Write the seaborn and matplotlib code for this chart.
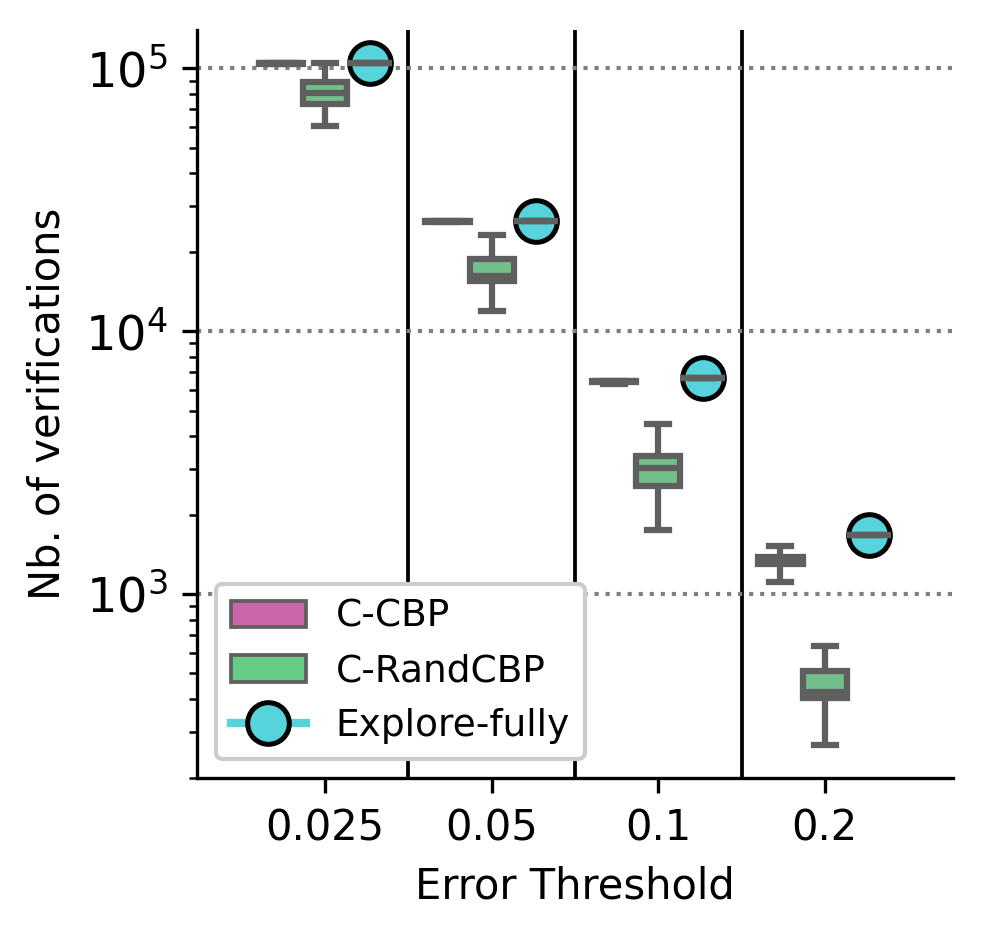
import matplotlib
matplotlib.use("Agg")
import matplotlib.pyplot as plt
from matplotlib.patches import Patch
from matplotlib.lines import Line2D
import pandas as pd
import seaborn as sns

thresholds = ["0.025", "0.05", "0.1", "0.2"]
methods = ["C-CBP", "C-RandCBP", "Explore-fully"]

# number of verifications per run
ccbp_runs = {
    "0.025": [103800, 104300, 104500, 104700, 105000],
    "0.05": [26000, 26100, 26200, 26300, 26400],
    "0.1": [6300, 6420, 6460, 6480, 6500],
    "0.2": [1110, 1300, 1340, 1385, 1520],
}
randcbp_runs = {
    "0.025": [60300, 73000, 81000, 88500, 104500],
    "0.05": [12000, 15500, 16200, 18800, 23200],
    "0.1": [1750, 2580, 3010, 3350, 4430],
    "0.2": [267, 402, 424, 509, 634],
}
explore_fully = {"0.025": 104500, "0.05": 26200, "0.1": 6630, "0.2": 1676}

colors = {"C-CBP": "#c965a8", "C-RandCBP": "#66cc85", "Explore-fully": "#56d3db"}
edge_gray = "#5f5f5f"

rows = []
for t in thresholds:
    for v in ccbp_runs[t]:
        rows.append((t, "C-CBP", v))
    for v in randcbp_runs[t]:
        rows.append((t, "C-RandCBP", v))
    rows.append((t, "Explore-fully", explore_fully[t]))
df = pd.DataFrame(rows, columns=["threshold", "method", "verifications"])

fig = plt.figure(figsize=(982 / 300, 940 / 300), dpi=300)
ax = fig.add_axes([0.2006, 0.1723, 0.7699, 0.7957])
ax.set_yscale("log")

sns.stripplot(data=df[df["method"] == "Explore-fully"], x="threshold", y="verifications",
              hue="method", hue_order=methods, order=thresholds, palette=colors,
              dodge=True, jitter=False, size=10, edgecolor="black", linewidth=1.2,
              legend=False, zorder=1, ax=ax)
sns.boxplot(data=df, x="threshold", y="verifications", hue="method",
            hue_order=methods, order=thresholds, palette=colors,
            linecolor=edge_gray, linewidth=1.5, whis=(0, 100), showfliers=False,
            legend=False, ax=ax)

for x in [0.5, 1.5, 2.5]:
    ax.axvline(x, color="black", lw=0.9, zorder=0)
ax.yaxis.grid(True, which="major", linestyle=":", color="gray", lw=1)
ax.set_axisbelow(True)

ax.set_xlim(-0.77, 3.77)
ax.set_ylim(200, 1.4e5)
ax.set_xlabel("Error Threshold", fontsize=10)
ax.set_ylabel("Nb. of verifications", fontsize=10)
ax.tick_params(axis="x", labelsize=10)
ax.tick_params(axis="y", labelsize=11.5)
sns.despine(ax=ax)

handles = [
    Patch(facecolor=colors["C-CBP"], edgecolor=edge_gray, lw=0.9, label="C-CBP"),
    Patch(facecolor=colors["C-RandCBP"], edgecolor=edge_gray, lw=0.9, label="C-RandCBP"),
    Line2D([], [], color=colors["Explore-fully"], lw=2, marker="o", markersize=10,
           markerfacecolor=colors["Explore-fully"], markeredgecolor="black",
           markeredgewidth=1.2, label="Explore-fully"),
]
ax.legend(handles=handles, loc="lower left", fontsize=9, framealpha=1)

fig.savefig("out.png", dpi=300)
